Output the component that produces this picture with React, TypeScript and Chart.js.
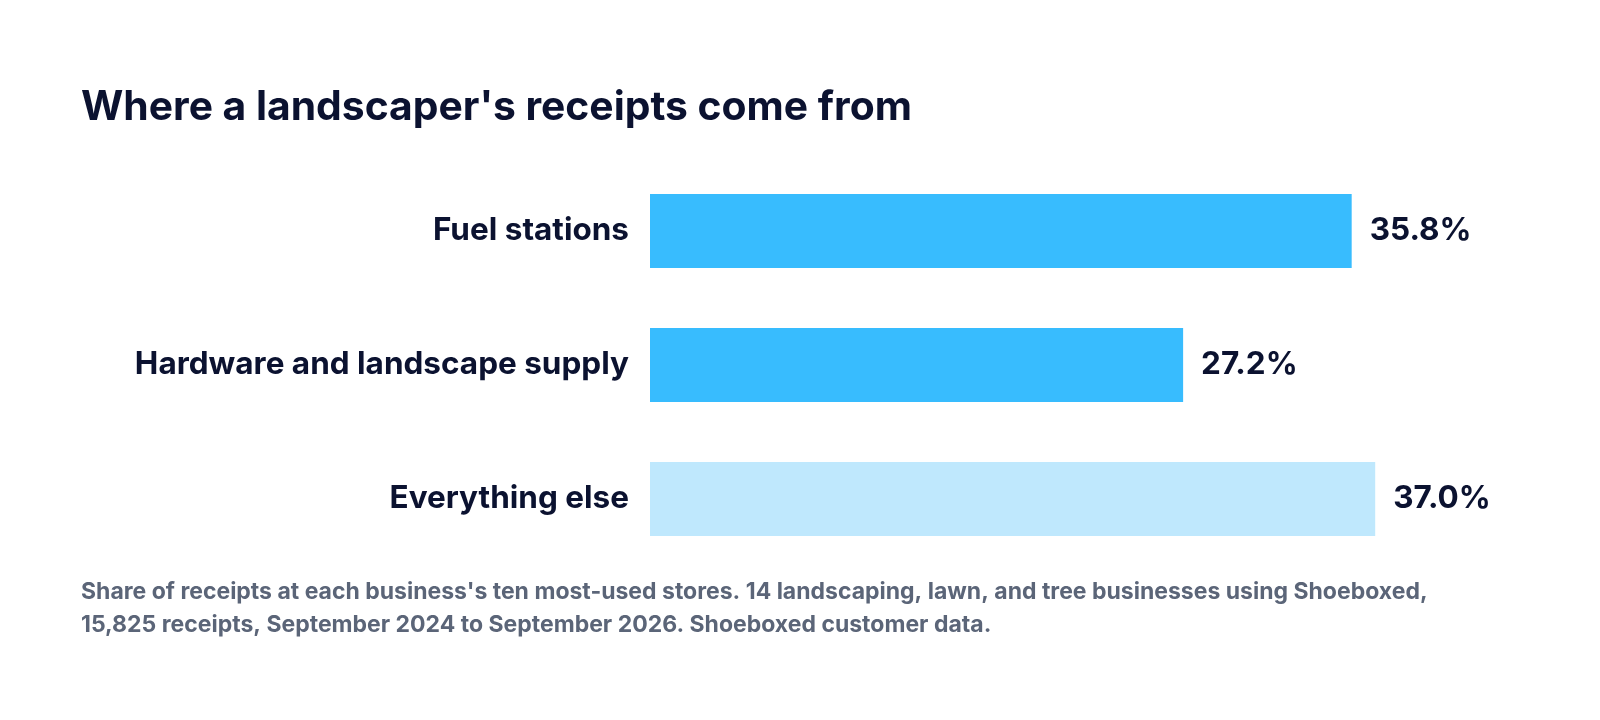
import { useEffect, useRef } from 'react';
import Chart from 'chart.js/auto';

// data
const categories = ['Fuel stations', 'Hardware and landscape supply', 'Everything else'];
const shares = [35.8, 27.2, 37.0];

const titleText = "Where a landscaper's receipts come from";
const noteLines = [
  "Share of receipts at each business's ten most-used stores. 14 landscaping, lawn, and tree businesses using Shoeboxed,",
  '15,825 receipts, September 2024 to September 2026. Shoeboxed customer data.',
];

const barColors = ['#38BCFE', '#38BCFE', '#BFE8FD'];
const ink = '#0B1230';
const grey = '#5B6578';
const fontFamily = 'Inter, "Noto Sans", sans-serif';

// percent labels at the end of each bar
const valueLabels = {
  id: 'valueLabels',
  afterDatasetsDraw(chart: Chart) {
    const ctx = chart.ctx;
    const meta = chart.getDatasetMeta(0);
    ctx.save();
    ctx.font = `700 31.5px ${fontFamily}`;
    ctx.fillStyle = ink;
    ctx.textAlign = 'left';
    ctx.textBaseline = 'middle';
    meta.data.forEach((bar: any, i: number) => {
      ctx.fillText(shares[i].toFixed(1) + '%', bar.x + 18, bar.y);
    });
    ctx.restore();
  },
};

export default function App() {
  const chartRef = useRef<HTMLCanvasElement | null>(null);
  const chartInstance = useRef<Chart | null>(null);

  useEffect(() => {
    if (!chartRef.current) return;
    if (chartInstance.current) chartInstance.current.destroy();

    chartInstance.current = new Chart(chartRef.current, {
      type: 'bar',
      data: {
        labels: categories,
        datasets: [{
          data: shares,
          backgroundColor: barColors,
          borderWidth: 0,
          categoryPercentage: 1,
          barPercentage: 0.552,
        }],
      },
      options: {
        indexAxis: 'y',
        responsive: true,
        maintainAspectRatio: false,
        animation: false,
        layout: { padding: { left: 81, right: 68, top: 0, bottom: 70 } },
        plugins: {
          legend: { display: false },
          tooltip: { enabled: false },
          title: {
            display: true,
            text: titleText,
            align: 'start',
            color: ink,
            font: { family: fontFamily, size: 40.8, weight: 'bold', lineHeight: 1.2 },
            padding: { top: 83, bottom: 32 },
          },
          subtitle: {
            display: true,
            position: 'bottom',
            text: noteLines,
            align: 'start',
            color: grey,
            font: { family: fontFamily, size: 23, weight: 'bold', lineHeight: 33 / 23 },
            padding: { top: 10, bottom: 8 },
          },
        },
        scales: {
          x: { display: false, min: 0, max: 45 },
          y: {
            afterFit: (scale: any) => { scale.width = 569; },
            grid: { display: false, drawTicks: false },
            border: { display: false },
            ticks: {
              color: ink,
              padding: 21,
              font: { family: fontFamily, size: 31.5, weight: 'bold' },
            },
          },
        },
      },
      plugins: [valueLabels],
    });

    return () => {
      if (chartInstance.current) {
        chartInstance.current.destroy();
        chartInstance.current = null;
      }
    };
  }, []);

  return (
    <div style={{ position: 'absolute', left: 0, top: 0, width: 1600, height: 720, background: '#fff' }}>
      <canvas ref={chartRef}></canvas>
    </div>
  );
}
